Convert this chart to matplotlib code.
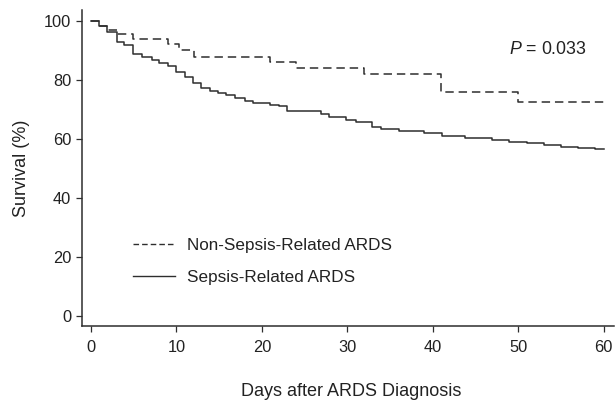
import matplotlib
matplotlib.use("Agg")
import matplotlib.pyplot as plt
from matplotlib.lines import Line2D

plt.rcParams['font.family'] = ['Liberation Sans', 'DejaVu Sans']
plt.rcParams['mathtext.fontset'] = 'custom'
plt.rcParams['mathtext.it'] = 'Liberation Sans:italic'
plt.rcParams['mathtext.rm'] = 'Liberation Sans'

# Kaplan-Meier steps (day of drop, survival after drop)
sepsis_days = [0, 0.9, 1.9, 3.0, 3.9, 4.9, 6.0, 7.1, 8.0, 9.0, 10.0, 11.0, 11.9,
               12.9, 13.9, 14.9, 15.8, 16.9, 18.0, 18.9, 21.0, 22.0, 22.9, 25.9,
               26.9, 27.9, 29.8, 31.0, 32.9, 33.9, 36.0, 39.0, 41.1, 43.8, 46.9,
               48.9, 51.0, 53.0, 55.0, 57.0, 59.0, 60.0]
sepsis_surv = [100, 98.3, 96.4, 93.0, 91.9, 88.8, 87.7, 86.8, 85.7, 84.7, 82.8, 81.1, 79.1,
               77.2, 76.4, 75.5, 74.9, 73.8, 72.9, 72.1, 71.5, 71.0, 69.6, 69.3,
               68.5, 67.3, 66.4, 65.9, 64.0, 63.3, 62.7, 61.9, 61.0, 60.2, 59.7,
               59.1, 58.5, 58.0, 57.4, 56.8, 56.6, 56.6]

nonsepsis_days = [0, 0.9, 1.9, 3.0, 4.9, 9.0, 10.3, 12.0, 21.0, 24.0, 32.0, 41.0, 50.0, 60.0]
nonsepsis_surv = [100, 98.3, 96.9, 95.5, 93.8, 92.3, 90.2, 87.9, 86.0, 84.0, 82.0, 76.0, 72.6, 72.6]

labels = ['Non-Sepsis-Related ARDS', 'Sepsis-Related ARDS']
p_text = r'$\it{P}$ = 0.033'

line_col = '#2e2e2e'
text_col = '#222222'

fig = plt.figure(figsize=(6.16, 4.04), dpi=100)
ax = fig.add_axes([81.7 / 616, 78 / 404, (614 - 81.7) / 616, (326 - 10) / 404])

ax.step(nonsepsis_days, nonsepsis_surv, where='post', color=line_col, lw=1.1,
        linestyle=(0, (5.5, 3.2)))
ax.step(sepsis_days, sepsis_surv, where='post', color=line_col, lw=1.1)

ax.set_xlim(-1.09, 61.2)
ax.set_ylim(-3.4, 103.7)
ax.set_xticks([0, 10, 20, 30, 40, 50, 60])
ax.set_yticks([0, 20, 40, 60, 80, 100])

for s in ['top', 'right']:
    ax.spines[s].set_visible(False)
for s in ['left', 'bottom']:
    ax.spines[s].set_linewidth(1.1)
    ax.spines[s].set_color(line_col)

ax.tick_params(axis='both', direction='out', length=4.3, width=0.9, colors=line_col,
               labelcolor=text_col, labelsize=11.8)
ax.tick_params(axis='y', pad=3.2)
ax.tick_params(axis='x', pad=5.5)

ax.set_ylabel('Survival (%)', fontsize=13, color=text_col)
ax.yaxis.set_label_coords(-0.097, 0.5)
ax.set_xlabel('Days after ARDS Diagnosis', fontsize=13, color=text_col)
ax.xaxis.set_label_coords(0.506, -0.18)

ax.text(48.9, 90.2, p_text, fontsize=12.8, color=text_col, ha='left', va='center')

handles = [Line2D([], [], color=line_col, lw=1.0, linestyle=(0, (4, 2.2))),
           Line2D([], [], color=line_col, lw=1.0)]
ax.legend(handles, labels, loc='upper left', bbox_to_anchor=(0.084, 0.299),
          frameon=False, fontsize=12.3, handlelength=2.45, handletextpad=0.7,
          labelspacing=0.95, labelcolor=text_col, borderaxespad=0)

fig.savefig('out.png', dpi=100)
